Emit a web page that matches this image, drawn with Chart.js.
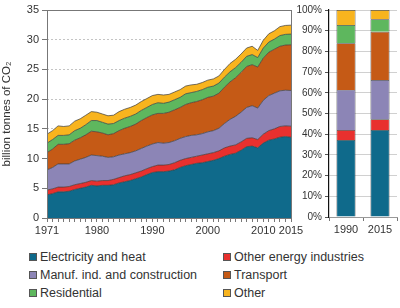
<!DOCTYPE html>
<html>
<head>
<meta charset="utf-8">
<script src="https://cdn.jsdelivr.net/npm/chart.js@4.4.1/dist/chart.umd.min.js"></script>
<style>
  body { margin: 0; background: #fff; font-family: "Liberation Sans", Arial, sans-serif; }
  #wrap { position: relative; width: 400px; height: 308px; overflow: hidden; }
  #areaBox { position: absolute; left: 0; top: 0; width: 312px; height: 242px; }
  #barBox { position: absolute; left: 288px; top: 0; width: 112px; height: 242px; }
  #legend { position: absolute; left: 29px; top: 248px; display: grid; grid-template-columns: 194px 170px; }
  .item { height: 18px; font-size: 12.5px; color: #333; display: flex; align-items: center; white-space: nowrap; }
  .sw { width: 6px; height: 6px; border: 1px solid #555; margin-right: 3px; }
</style>
</head>
<body>
<div id="wrap">
  <div id="areaBox"><canvas id="areaChart"></canvas></div>
  <div id="barBox"><canvas id="barChart"></canvas></div>
  <div id="legend"></div>
</div>
<script>
// Categories
const years = [1971, 1972, 1973, 1974, 1975, 1976, 1977, 1978, 1979, 1980,
  1981, 1982, 1983, 1984, 1985, 1986, 1987, 1988, 1989, 1990,
  1991, 1992, 1993, 1994, 1995, 1996, 1997, 1998, 1999, 2000,
  2001, 2002, 2003, 2004, 2005, 2006, 2007, 2008, 2009, 2010,
  2011, 2012, 2013, 2014, 2015];
const labelYears = [1971, 1980, 1990, 2000, 2010, 2015];
const barYears = ['1990', '2015'];
const sectors = ['Electricity and heat', 'Other energy industries', 'Manuf. ind. and construction',
  'Transport', 'Residential', 'Other'];

// Emissions by sector, billion tonnes of CO2
const electricity = [3.9, 4.1, 4.4, 4.4, 4.5, 4.8, 5.0, 5.2, 5.5, 5.4,
  5.5, 5.5, 5.6, 5.9, 6.1, 6.3, 6.6, 6.9, 7.3, 7.65,
  7.8, 7.8, 7.9, 8.1, 8.5, 8.8, 9.0, 9.2, 9.3, 9.5,
  9.7, 10.0, 10.4, 10.7, 10.9, 11.4, 12.0, 12.1, 11.8, 12.6,
  13.1, 13.3, 13.6, 13.7, 13.6];
const otherEnergy = [0.8, 0.8, 0.8, 0.8, 0.8, 0.8, 0.8, 0.8, 0.8, 0.8,
  0.8, 0.8, 0.9, 0.9, 1.0, 1.0, 1.0, 1.0, 1.0, 1.0,
  1.1, 1.1, 1.1, 1.2, 1.2, 1.2, 1.2, 1.2, 1.3, 1.3,
  1.3, 1.3, 1.4, 1.4, 1.4, 1.4, 1.4, 1.4, 1.4, 1.5,
  1.6, 1.7, 1.8, 1.8, 1.85];
const manufacturing = [3.4, 3.6, 3.9, 3.9, 3.8, 4.0, 4.1, 4.2, 4.3, 4.3,
  4.1, 3.9, 3.8, 3.8, 3.7, 3.7, 3.7, 3.8, 3.8, 3.8,
  3.8, 3.7, 3.7, 3.7, 3.7, 3.7, 3.7, 3.6, 3.6, 3.7,
  3.7, 3.8, 4.1, 4.5, 4.8, 5.0, 5.2, 5.4, 5.3, 5.7,
  5.9, 6.0, 6.0, 6.0, 6.0];
const transport = [2.9, 3.1, 3.3, 3.3, 3.4, 3.5, 3.6, 3.8, 4.0, 4.0,
  3.9, 3.8, 3.9, 4.1, 4.3, 4.4, 4.5, 4.7, 4.8, 4.9,
  4.9, 5.0, 5.1, 5.2, 5.2, 5.4, 5.5, 5.6, 5.7, 5.8,
  5.8, 5.9, 6.1, 6.3, 6.5, 6.7, 6.9, 6.9, 6.9, 7.1,
  7.3, 7.4, 7.5, 7.6, 7.7];
const residential = [1.6, 1.6, 1.5, 1.5, 1.5, 1.6, 1.6, 1.7, 1.8, 1.9,
  1.8, 1.8, 1.7, 1.7, 1.7, 1.7, 1.7, 1.7, 1.7, 1.75,
  1.8, 1.7, 1.7, 1.7, 1.7, 1.8, 1.7, 1.7, 1.7, 1.7,
  1.7, 1.7, 1.7, 1.7, 1.7, 1.7, 1.7, 1.7, 1.6, 1.7,
  1.7, 1.7, 1.8, 1.8, 1.8];
const otherSectors = [1.5, 1.5, 1.6, 1.5, 1.5, 1.6, 1.6, 1.6, 1.5, 1.4,
  1.4, 1.4, 1.4, 1.5, 1.5, 1.5, 1.5, 1.5, 1.5, 1.5,
  1.4, 1.4, 1.3, 1.3, 1.3, 1.3, 1.3, 1.2, 1.2, 1.2,
  1.2, 1.2, 1.3, 1.4, 1.4, 1.4, 1.4, 1.4, 1.2, 1.3,
  1.4, 1.4, 1.5, 1.5, 1.5];

// Shares in 1990 and 2015, percent
const share1990 = [37.2, 4.8, 19.4, 22.5, 8.85, 7.25];
const share2015 = [42.0, 5.2, 19.0, 23.3, 6.0, 4.5];

const yTicks = [0, 5, 10, 15, 20, 25, 30, 35];
const pctTicks = [0, 10, 20, 30, 40, 50, 60, 70, 80, 90, 100];

const colors = ['#0f6a8b', '#e8302e', '#8c85b6', '#c55a16', '#5eb75e', '#f8b41e'];
const series = [electricity, otherEnergy, manufacturing, transport, residential, otherSectors];
const tickFont = { family: '"Liberation Sans", Arial, sans-serif', size: 11 };

// plot frame for the area chart
const frame = {
  id: 'frame',
  afterDatasetsDraw(chart) {
    const a = chart.chartArea, ctx = chart.ctx;
    ctx.save();
    ctx.strokeStyle = '#777';
    ctx.lineWidth = 1;
    ctx.strokeRect(Math.round(a.left) + 0.5, Math.round(a.top) + 0.5,
      Math.round(a.right - a.left), Math.round(a.bottom - a.top));
    ctx.restore();
  }
};

new Chart(document.getElementById('areaChart'), {
  type: 'line',
  data: {
    labels: years,
    datasets: series.map((d, i) => ({
      label: sectors[i],
      data: d,
      backgroundColor: colors[i],
      borderColor: '#3a3a3a',
      borderWidth: 0.7,
      fill: i === 0 ? 'origin' : '-1',
      pointRadius: 0,
      tension: 0
    }))
  },
  options: {
    responsive: true,
    maintainAspectRatio: false,
    animation: false,
    layout: { padding: { top: 10, right: 21, left: 0, bottom: 0 } },
    plugins: { legend: { display: false }, tooltip: { enabled: false } },
    scales: {
      x: {
        type: 'category',
        offset: false,
        grid: { drawOnChartArea: false, drawTicks: true, tickLength: 4, tickColor: '#777' },
        border: { display: false },
        ticks: {
          autoSkip: false, maxRotation: 0, color: '#333', font: tickFont, padding: 2,
          callback: (v, i) => labelYears.includes(years[i]) ? String(years[i]) : ''
        },
        afterFit: s => { s.height = 24; }
      },
      y: {
        stacked: true,
        min: 0,
        max: 35,
        afterBuildTicks: s => { s.ticks = yTicks.map(v => ({ value: v })); },
        grid: { color: '#c4c4c4', tickColor: '#777', tickLength: 5 },
        border: { display: false, dash: [2, 2] },
        ticks: { color: '#333', font: tickFont, padding: 3 },
        title: {
          display: true, text: 'billion tonnes of CO\u2082', color: '#333', padding: 0,
          font: { family: '"Liberation Sans", Arial, sans-serif', size: 11.5 }
        },
        afterFit: s => { s.width = 47; }
      }
    }
  },
  plugins: [frame]
});

new Chart(document.getElementById('barChart'), {
  type: 'bar',
  data: {
    labels: barYears,
    datasets: sectors.map((name, i) => ({
      label: name,
      data: [share1990[i], share2015[i]],
      backgroundColor: colors[i],
      borderColor: '#3a3a3a',
      borderWidth: 0.7,
      barPercentage: 0.56,
      categoryPercentage: 1
    }))
  },
  options: {
    responsive: true,
    maintainAspectRatio: false,
    animation: false,
    layout: { padding: { top: 10, right: 3, left: 0, bottom: 0 } },
    plugins: { legend: { display: false }, tooltip: { enabled: false } },
    scales: {
      x: {
        stacked: true,
        grid: { offset: true, drawOnChartArea: false, tickLength: 4, tickColor: '#777' },
        border: { color: '#999' },
        ticks: { color: '#333', font: tickFont, padding: 2 },
        afterFit: s => { s.height = 25; }
      },
      y: {
        stacked: true,
        min: 0,
        max: 100,
        afterBuildTicks: s => { s.ticks = pctTicks.map(v => ({ value: v })); },
        grid: { color: '#d0d0d0', tickColor: '#555', tickLength: 4 },
        border: { color: '#111', width: 1.2 },
        ticks: { color: '#333', font: { family: '"Liberation Sans", Arial, sans-serif', size: 10 }, padding: 3,
          callback: v => v + '%' },
        afterFit: s => { s.width = 41; }
      }
    }
  }
});

// Legend, two columns
const legend = document.getElementById('legend');
sectors.forEach((name, i) => {
  const item = document.createElement('div');
  item.className = 'item';
  item.innerHTML = '<span class="sw" style="background:' + colors[i] + '"></span>' + name;
  legend.appendChild(item);
});
</script>
</body>
</html>
